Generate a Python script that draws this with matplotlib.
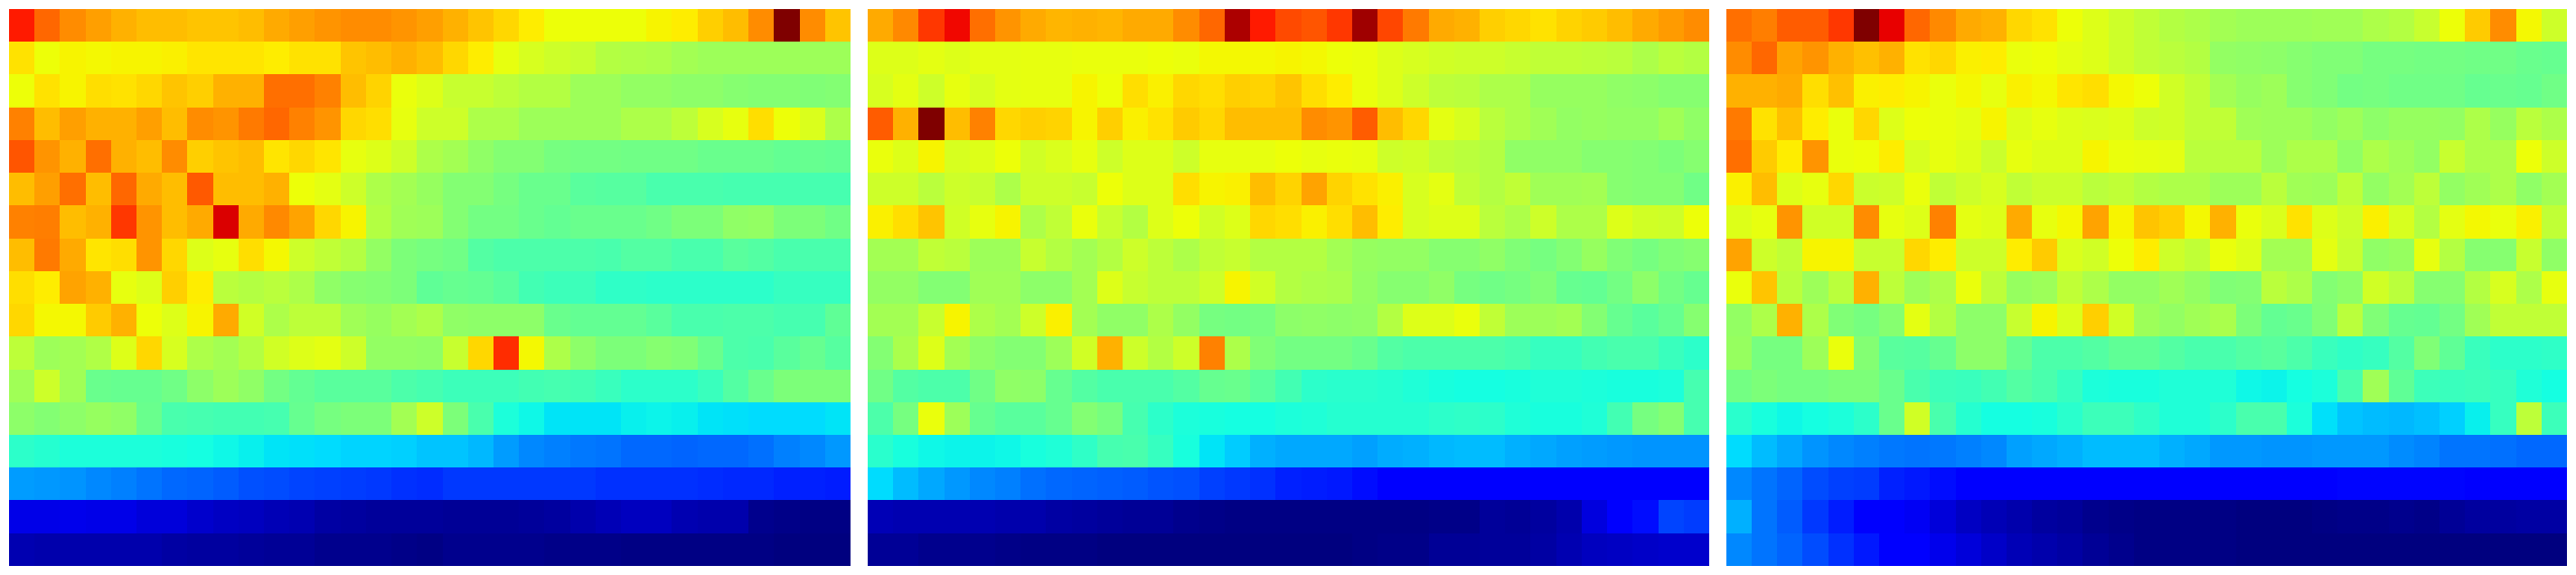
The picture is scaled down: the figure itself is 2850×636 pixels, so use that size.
import numpy as np
import matplotlib
matplotlib.use('Agg')
import matplotlib.pyplot as plt

# cell values (0-100 on the jet scale), one line per row
panel_a = [
    [88,80,76,74,72,71,71,70,70,71,73,74,75,76,76,75,74, 72,70,68,66,64,64,64,64,65,66,69,71,76,100,76,70],
    [67,64,65,64.5,65,65,65.5,66.5,66.5,66.5,66,67,67,70,71,72,71, 68,66,63,61,60,59,57,56.5,56,55,54,54,54,54,54,54],
    [64,67,65,67.5,67,68,70,69,72,72,79,79,77,71,68.5,63.5,62, 59,59,58,57,57,54,54,53,53,52,52,51.5,51,51,50.5,51],
    [77,71,74,72,72,74,71,76,75,78,80,77,75,68,67.5,63,60, 60,56,56,54,54,54,54,56,56,58,61,63,67.5,64,61.5,56],
    [82,75,72,79,72,71,76,69,70,71,66.5,68,66.5,63,62,60,56, 55,52.5,51,51,49.5,49,49,48.5,48.5,48.5,48,48,48,47,47.5,47],
    [71,74,79,71,80,73,71,81.5,71,71,72,64,62.5,60,56,55,53.5, 51,51,49.5,48,48,46,45.5,45.5,44,44,44,43.5,43.5,43.5,43.5,43.5],
    [77,77.5,71,72,85,75,71,73,92,73,76.5,73.5,68,65,57,54.5,54, 51,49,49,48,47,48,48,48,48.5,50,50,52.5,53,50,50,48.5],
    [71,78,73,66.5,67.5,75,68,62,63,67.5,64.5,60,58.5,57,53,50,49.5, 48.5,45,44.5,44.5,44.5,44.5,44,45,45,44,44,46,45,44,44,44],
    [67.5,66,73.5,72,63,62,69,66,57.5,57,57.5,56,52.5,51.5,51,50,46.5, 47.5,47,46,43,42.5,42.5,41,41,40.5,40.5,40.5,40.5,40.5,41.5,41.5,41.5],
    [68,64.5,64.5,69.5,72,64,62,65,73,60.5,56,58,58,54.5,53.5,55,56, 52.5,52,52,52,48,47,47,47,46,44,44,44.5,44.5,43.5,43.5,46.5],
    [58,54,55,56.5,62,68,61,56,55,57,60.5,62,62.5,60,53,53,52.5, 59,68,86,64.5,56,52,50,50,51.5,50.5,48,44.5,44,46,47.5,45.5],
    [54.5,60,54.5,48,47.5,47.5,48.5,52,54,52.5,49,47,46,46,46,44.5,43.5, 42.5,42.5,42.5,43,43.5,43,42,40.5,40.5,40.5,42,45,48,50,50,50],
    [52,51,52,53.5,52.5,48,44,43.5,43,43,43.5,47.5,49.5,50,50,55,60, 50,44,38.5,37,35,35,35,36,36.5,36,35,34.5,34,34,34,35],
    [40.5,39.5,38.5,38.5,38.5,38.5,38,37.5,37,36,35,34.5,34,33.5,33.5,33,32, 32,30.5,28,26,25,24.5,24,23,23,22.5,23,23,23.5,25,26,27.5],
    [28,27.5,27,26,25,24,23,22.5,21.5,20.5,20,19.5,19,18.5,18,17.5,17, 18,18,18,18,18,18,17.5,17.5,17.5,17.5,17,16.5,16.5,16,16,15.5],
    [9,9,9.5,9,9,8,8,7,6,5.5,5,4.5,3.5,3,2.5,2.5,2.5, 2,2,2,2.5,3,4,5,5.5,5.5,4.5,4,4,1.5,1,0.5,0.5],
    [4.5,4,4,4,4,4,3.5,3,3,2.5,2,2,1.5,1.5,1.5,1,0.5, 1.5,1.5,1.5,1.5,1,1,1,0.5,0.5,0.5,0.5,0.5,0.5,0,0,0],
]

panel_b = [
    [73,76.5,85,90,79,75,73,71.5,72,71.5,73,73,76,80,96,88,83, 82,85,97,83.5,78,73,72,69,68,67,68.5,69.5,71,73,74.5,76],
    [62,62,62.5,62,62.5,62.5,63,63,63.5,63.5,63.5,64,63.5,64.5,64.5,64.5,65, 64.5,64,63.5,62,61,60.5,60,60,59,58.5,58.5,58,57.5,56,57.5,57],
    [61,62.5,60,63,61,62.5,63,63,65,64,67.5,65.5,68,67.5,69,68.5,70, 67.5,66,63.5,62,60,58,57.5,56,56,53.5,53.5,53.5,52.5,52,51.5,51.5],
    [81,72,100,71,77,68,69,68.5,65,69,65.5,67,69.5,68,71,71,71, 76,75,81,71,68,62.5,61,57.5,56,54.5,53,53.5,53,53,54.5,52.5],
    [63.5,62,65,61,62,64,60.5,61.5,63,60,62,62,60,63,63,63,64, 63,63.5,63,60,60.5,58.5,57.5,57,52.5,52.5,52.5,51.5,51.5,51,50,51.5],
    [60,60,57.5,60,59,56,60,60,59,64,62,62,67.5,65,65.5,71,68.5, 73.5,68.5,67,65.5,61,62.5,58.5,57,58.5,54.5,54.5,55,51.5,51,51,48.5],
    [65.5,67.5,70,60.5,63,65,56,58.5,63.5,59,57,62,64,60.5,62,68,67.5, 65.5,67.5,71,66,61,62,62,57.5,56,60,56,56,62,60.5,60,64],
    [55,55,58.5,57.5,54,54,59,57,55,57,60,58,56,58.5,59,57,57, 57,55,53.5,53,53,51.5,51.5,52.5,50.5,49.5,51,53.5,50.5,49.5,50.5,51.5],
    [53,53,51,51,54.5,54.5,52,52,55,62,59,58,58,60,65,60.5,57, 56,55.5,53,51.5,51.5,52.5,49.5,48.5,49.5,50.5,47.5,47,49,52,49,47.5],
    [55,55,59,65,56,55,60,65.5,55,52.5,52.5,56,53,49.5,49,49.5,52, 52.5,52,52.5,57,62,62,63.5,58.5,54,54,55,51,47.5,46,47.5,51.5],
    [51,55.5,62,55,52,51,51,54,60.5,72,60,57,60,77,56,50.5,49, 49,49,48,45,44.5,44.5,44.5,44.5,43.5,41.5,41.5,43,44,44,42,40.5],
    [48.5,45,44.5,44.5,48.5,52.5,52,47.5,45,44,44,44,45,47.5,48,46,43, 40.5,40,40,39.5,39,38,37.5,37.5,38,39,39,38.5,38,38,38.5,43.5],
    [44.5,49.5,63.5,54,47.5,46,46,47.5,51,49.5,43.5,40.5,38.5,38,37.5,37.5,38.5, 39,39.5,39.5,39.5,39.5,40.5,41,40.5,39,38,38,39,43,49.5,51,43.5],
    [40,38,37,36.5,36.5,37,38,39,41,43.5,44,41.5,38,35,32.5,30,29, 29,29,28.5,29.5,30,30.5,31,31,30,29,28.5,28,27.5,27,27,27],
    [34,31,29,27.5,26,25,23.5,23,22.5,22,21.5,21,20.5,19,18,17.5,16, 15.5,15,14,12,12,12,12,12,12,12,12,12,12,12,12,12],
    [5,4.5,4.5,4.5,4.5,4,4,3.5,3,2.5,2,2,1.5,1,0.5,0.5,0.5, 0.5,0.5,0.5,0.5,0.5,1,1,2.5,2,3,4,8.5,11,14,19.5,18.5],
    [2,2,1.5,1.5,1.5,1,0.5,0.5,0.5,0,0,0,0,0,0,0,0, 0,0,0.5,1,1,2,2,2.5,2.5,3.5,4.5,5.5,6,6.5,7,7],
]

panel_c = [
    [79,77.5,81,81,85,100,91,80,76.5,73,72,68,67,64,62,60,58.5, 57,56,55,54,54,54,54.5,54.5,56,57,59,64,69.5,76,64.5,60],
    [76,80,73.5,75,72,70.5,72,67,68,65.5,66,63.5,64,62.5,62,60,58.5, 57.5,57,53,52.5,52,51.5,50.5,50.5,49.5,49.5,49,49,48.5,48.5,48,47.5],
    [72,72,73,67.5,70.5,65.5,66,65,63.5,64.5,63,65.5,64.5,66.5,67.5,64.5,64, 60.5,58.5,55,53.5,54,51.5,50.5,49,49.5,48.5,48.5,48.5,47.5,48,47.5,48.5],
    [78,67,70.5,66,63.5,68,62,64,63.5,62.5,65,62,63,62,61.5,62,60, 60.5,58.5,58.5,54.5,54,54,53,54,52,53.5,53.5,53,56,53.5,57.5,56],
    [79,69.5,66,75,63.5,64,66,61,63,62,59.5,63,62,62,65,63.5,63, 62.5,57.5,57.5,57.5,54,56,56,52.5,56,54.5,53,59,56,56,64,60],
    [65.5,71,62,63,68,59.5,60,63.5,58.5,60,61,58.5,59.5,59.5,57.5,58.5,57, 56,56,54,54,57.5,54.5,54,58,53,55,58,53,54.5,56,52.5,55],
    [62,63,75,60.5,60.5,76,63,62,77,62.5,62,73,63,64.5,73.5,65,70, 69,64.5,72,63.5,61.5,67,62,60,65.5,61,57,62.5,64.5,63.5,65.5,58.5],
    [73.5,60,58.5,65,65,59,59,68,66,60,60,66,69.5,61.5,60.5,64,66, 60,58.5,63.5,62,55,55,62.5,59,52.5,53.5,63,57,51.5,51.5,59,52.5],
    [63.5,70,57.5,54,57.5,72,58,54,56,63.5,58,53.5,54,58.5,56,53,53, 54.5,53,50.5,51,57.5,56,51,52,60.5,57.5,51.5,51.5,57,61,56,63],
    [53,56,72,56,50.5,49.5,51.5,62.5,57,52,52,59,65,61.5,69,60.5,54, 53,54.5,55.5,50,47,48,50.5,57.5,50.5,47.5,47,49,54.5,58.5,58.5,58.5],
    [53.5,49.5,49.5,54,63.5,51,46,45.5,47.5,52,52,47.5,44.5,44.5,45,46.5,46.5, 45,44,44,45,46,44.5,42,41,41.5,45,50.5,46.5,42,40.5,40.5,41],
    [49,50,49.5,49.5,50,50,48,44,42.5,42,43,45,44,41.5,38.5,38,38, 39,39,39,37,36.5,37.5,38.5,44,54.5,46.5,42.5,42,42.5,41.5,39,37.5],
    [40,38,37,37.5,38.5,40.5,48,60.5,44,39.5,37.5,37.5,38,40,42.5,42.5,41, 39,39,40.5,44,44,38.5,34.5,32,31,30.5,31.5,33,36,41.5,58,42.5],
    [34,31,29,27,26,25,24.5,24,24.5,25,26,28.5,29,30,31,31,31, 30,29,27.5,27.5,27,27,27.5,27.5,27.5,26.5,25.5,24,24,23.5,23,23],
    [26,24,22.5,20,19,18.5,16,15,14,12,12,12,12,12,12,12,12, 12,12,12,12,12,12,12.5,13,13,13,13,13,12.5,12.5,12,12],
    [30,24,21.5,18,15.5,11,11,10.5,8,6,5,4,3,2.5,1.5,1,0.5, 0.5,0.5,0.5,0,0,0,0.5,1,1,1.5,1,2,3,3,3.5,3.5],
    [26,24,22.5,20,17.5,15,12,12,9.5,8,6.5,5,4,3.5,2,1.5,0.5, 0.5,0.5,0.5,0,0,0,0,0,0,0,0,0,0,0,0,0],
]

fig = plt.figure(figsize=(28.5, 6.36), dpi=100)

# pixel left edge of each panel in the 2850 wide picture
for left, panel in zip([10, 960, 1910], [panel_a, panel_b, panel_c]):
    ax = fig.add_axes([left / 2850, 10 / 636, 930 / 2850, 616 / 636])
    ax.imshow(np.array(panel), cmap='jet', vmin=0, vmax=100,
              aspect='auto', interpolation='nearest')
    ax.axis('off')

plt.savefig('out.png', dpi=100)
